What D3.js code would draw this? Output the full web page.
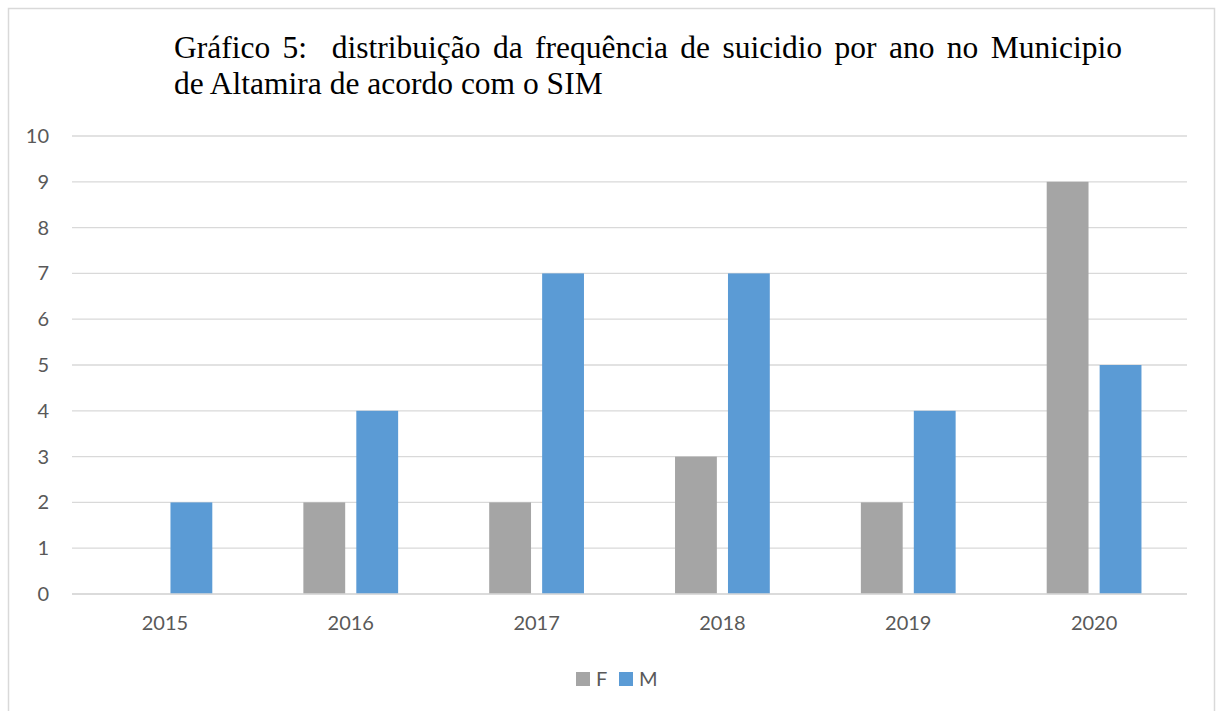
<!DOCTYPE html>
<html lang="pt">
<head>
<meta charset="UTF-8">
<title>Gráfico 5</title>
<script src="https://d3js.org/d3.v7.min.js"></script>
<style>
  body { margin: 0; background: #fff; }
  svg { display: block; }
</style>
</head>
<body>
<div id="chart"></div>
<script>
// data
const years = ["2015", "2016", "2017", "2018", "2019", "2020"];
const seriesNames = ["F", "M"];
const valuesF = [0, 2, 2, 3, 2, 9];
const valuesM = [2, 4, 7, 7, 4, 5];
const yTicks = [0, 1, 2, 3, 4, 5, 6, 7, 8, 9, 10];
const titleLine1 = ["Gráfico", "5:", "distribuição", "da", "frequência", "de", "suicidio", "por", "ano", "no", "Municipio"];
const titleLine2 = "de Altamira de acordo com o SIM";

const W = 1216, H = 711;
const margin = { top: 136, right: 29, bottom: 117, left: 72 };
const width = W - margin.left - margin.right;
const height = H - margin.top - margin.bottom;

const colors = { F: "#a5a5a5", M: "#5b9bd5" };
const axisFont = "Lato, 'Open Sans', sans-serif";

const svg = d3.select("#chart").append("svg")
    .attr("width", W)
    .attr("height", H);

// outer chart frame
svg.append("rect")
    .attr("x", 8.5).attr("y", 8.5)
    .attr("width", 1206).attr("height", 720)
    .attr("fill", "#fff")
    .attr("stroke", "#d9d9d9")
    .attr("stroke-width", 1.5);

const g = svg.append("g")
    .attr("transform", `translate(${margin.left},${margin.top})`);

const x0 = d3.scaleBand().domain(years).range([0, width]);
const x1 = d3.scaleBand().domain(seriesNames)
    .range([0, x0.bandwidth()])
    .paddingInner(0.21)
    .paddingOuter(0.86);
const y = d3.scaleLinear().domain([0, 10]).range([height, 0]);

// gridlines
g.append("g")
    .selectAll("line")
    .data(yTicks)
    .join("line")
    .attr("x1", 0).attr("x2", width)
    .attr("y1", d => y(d)).attr("y2", d => y(d))
    .attr("stroke", "#d9d9d9")
    .attr("stroke-width", 1.3);

// y axis labels
const yAxis = g.append("g")
    .call(d3.axisLeft(y).tickValues(yTicks).tickSize(0).tickPadding(23));
yAxis.select(".domain").remove();
yAxis.selectAll("text")
    .attr("fill", "#595959")
    .style("font-family", axisFont)
    .style("font-size", "20px");

// bars
const data = years.map((yr, i) => ({ year: yr, F: valuesF[i], M: valuesM[i] }));
g.append("g")
    .selectAll("g")
    .data(data)
    .join("g")
    .attr("transform", d => `translate(${x0(d.year)},0)`)
    .selectAll("rect")
    .data(d => seriesNames.map(k => ({ key: k, value: d[k] })))
    .join("rect")
    .attr("x", d => x1(d.key))
    .attr("y", d => y(d.value))
    .attr("width", x1.bandwidth())
    .attr("height", d => y(0) - y(d.value))
    .attr("fill", d => colors[d.key]);

// baseline
g.append("line")
    .attr("x1", 0).attr("x2", width)
    .attr("y1", y(0)).attr("y2", y(0))
    .attr("stroke", "#d9d9d9")
    .attr("stroke-width", 1.5);

// x axis labels
const xAxis = g.append("g")
    .attr("transform", `translate(0,${height})`)
    .call(d3.axisBottom(x0).tickSize(0).tickPadding(22));
xAxis.select(".domain").remove();
xAxis.selectAll("text")
    .attr("fill", "#595959")
    .style("font-family", axisFont)
    .style("font-size", "20px");

// title, first line justified between two edges
const titleFont = "'Liberation Serif', 'Times New Roman', serif";
const titleSize = "31.5px";
const tLeft = 174, tRight = 1122;
const t1 = svg.append("text")
    .attr("y", 58)
    .attr("fill", "#000")
    .style("font-family", titleFont)
    .style("font-size", titleSize);
const spans = t1.selectAll("tspan")
    .data(titleLine1)
    .join("tspan")
    .text(d => d);
const widths = [];
spans.each(function () { widths.push(this.getComputedTextLength()); });
const gaps = titleLine1.length - 1;
// the "5:" is followed by a double space in the source
const extra = 1;
const gapW = (tRight - tLeft - d3.sum(widths)) / (gaps + extra);
let cx = tLeft;
spans.attr("x", (d, i) => {
    const pos = cx;
    cx += widths[i] + gapW * (i === 1 ? 2 : 1);
    return pos;
});

svg.append("text")
    .attr("x", tLeft)
    .attr("y", 94)
    .attr("fill", "#000")
    .style("font-family", titleFont)
    .style("font-size", titleSize)
    .text(titleLine2);

// legend
const legend = svg.append("g")
    .attr("transform", "translate(576,672)");
const legendItems = legend.selectAll("g")
    .data(seriesNames)
    .join("g")
    .attr("transform", (d, i) => `translate(${i * 43},0)`);
legendItems.append("rect")
    .attr("width", 14).attr("height", 14)
    .attr("fill", d => colors[d]);
legendItems.append("text")
    .attr("x", 20)
    .attr("y", 7)
    .attr("dy", "0.35em")
    .attr("fill", "#595959")
    .style("font-family", axisFont)
    .style("font-size", "20px")
    .text(d => d);
</script>
</body>
</html>
